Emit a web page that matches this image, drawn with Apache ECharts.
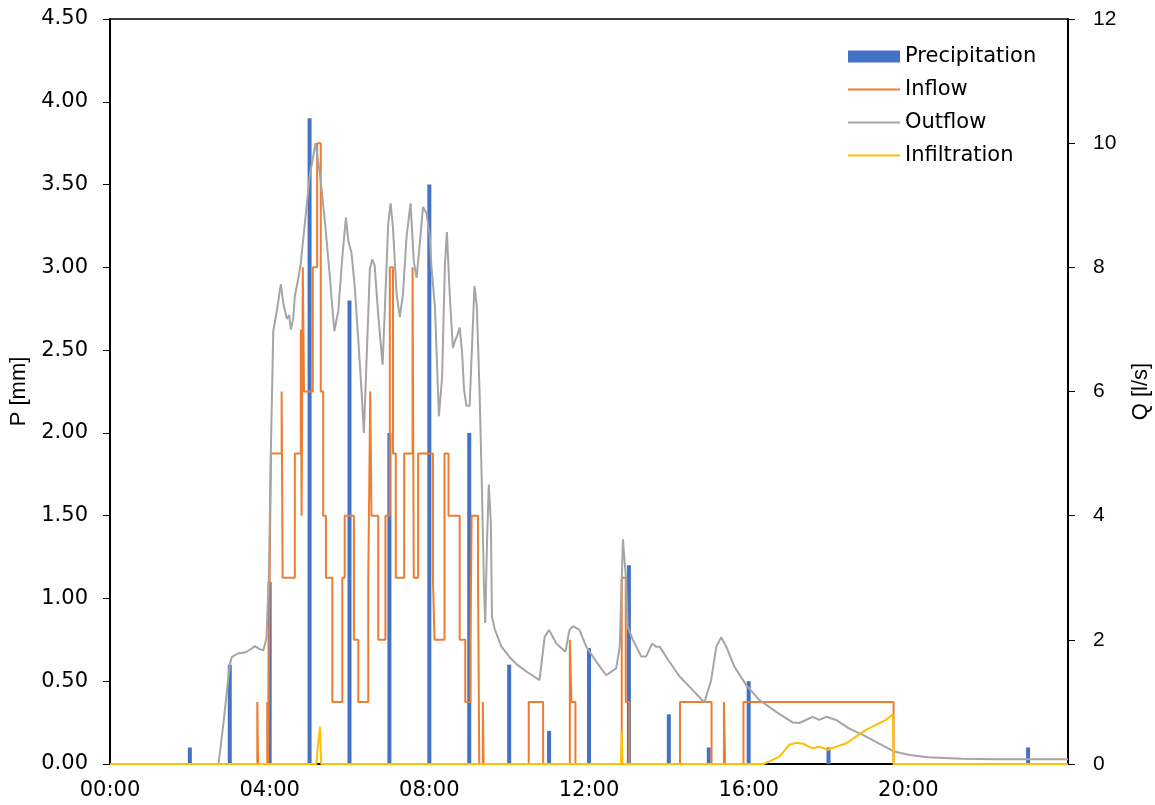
<!DOCTYPE html>
<html>
<head>
<meta charset="utf-8">
<script src="https://cdn.jsdelivr.net/npm/echarts@6/dist/echarts.min.js"></script>
<style>
  html, body { margin: 0; padding: 0; background: #fff; }
  #chart { width: 1155px; height: 805px; }
</style>
</head>
<body>
<div id="chart"></div>
<script>
// precipitation, hourly totals [mm]
const rainHours = [2, 3, 4, 5, 6, 7, 8, 9, 10, 11, 12, 13, 14, 15, 16, 18, 23]
const rainValues = [0.1, 0.6, 1.1, 3.9, 2.8, 2.0, 3.5, 2.0, 0.6, 0.2, 0.7, 1.2, 0.3, 0.1, 0.5, 0.1, 0.1]

// inflow [l/s], change points: [hour, new value]
const inflow = [
  [0, 0], [3.69, 1], [3.71, 0], [3.94, 1], [3.96, 0], [4.0, 3], [4.03, 5],
  [4.3, 6], [4.325, 3], [4.63, 5], [4.78, 7], [4.8, 4], [4.83, 8], [4.86, 6],
  [5.08, 8], [5.19, 10], [5.28, 6], [5.34, 4], [5.41, 3], [5.57, 1], [5.82, 3],
  [5.88, 4], [6.11, 2], [6.22, 1], [6.47, 3], [6.52, 6], [6.55, 4], [6.72, 2],
  [6.9, 4], [7.01, 8], [7.09, 5], [7.16, 3], [7.37, 5], [7.58, 8], [7.61, 3],
  [7.72, 5], [8.09, 3], [8.13, 2], [8.38, 5], [8.48, 4], [8.76, 2], [8.9, 1],
  [9.03, 2], [9.06, 4], [9.22, 3], [9.25, 0], [9.34, 1], [9.36, 0],
  [10.49, 1], [10.85, 0], [11.52, 2], [11.56, 1], [11.66, 0],
  [12.82, 3], [12.92, 1], [13.01, 0], [14.28, 1], [15.07, 0],
  [15.38, 1], [15.41, 0], [15.87, 1], [19.63, 0], [24, 0],
]

// outflow [l/s]
const outflow = [
  [0, 0], [2.72, 0], [2.85, 0.7], [3.0, 1.6], [3.05, 1.72], [3.2, 1.78], [3.4, 1.8],
  [3.55, 1.86], [3.63, 1.9], [3.75, 1.85], [3.84, 1.83], [3.92, 2.03], [3.98, 3.03],
  [4.03, 5.03], [4.09, 6.97], [4.18, 7.3], [4.28, 7.73], [4.34, 7.43], [4.43, 7.17],
  [4.49, 7.23], [4.53, 7.0], [4.59, 7.17], [4.63, 7.53], [4.72, 7.83], [4.78, 8.07],
  [4.88, 8.7], [5.01, 9.5], [5.15, 10.0], [5.26, 9.5], [5.39, 8.7], [5.51, 7.83],
  [5.62, 6.97], [5.72, 7.3], [5.82, 8.17], [5.91, 8.8], [5.97, 8.43], [6.05, 8.23],
  [6.13, 7.7], [6.22, 6.83], [6.3, 6.03], [6.36, 5.33], [6.42, 6.37], [6.51, 7.97],
  [6.57, 8.13], [6.63, 8.03], [6.72, 7.23], [6.83, 6.43], [6.9, 7.57], [6.97, 8.7],
  [7.03, 9.03], [7.09, 8.63], [7.18, 7.57], [7.26, 7.2], [7.34, 7.57], [7.43, 8.5],
  [7.53, 9.03], [7.61, 8.1], [7.68, 7.83], [7.76, 8.37], [7.84, 8.97], [7.93, 8.87],
  [8.01, 8.5], [8.05, 8.03], [8.14, 7.37], [8.24, 5.6], [8.32, 6.23], [8.39, 8.03],
  [8.44, 8.57], [8.51, 7.57], [8.59, 6.7], [8.65, 6.83], [8.7, 6.9], [8.76, 7.03],
  [8.82, 6.63], [8.87, 6.03], [8.93, 5.77], [9.01, 5.77], [9.08, 6.9], [9.13, 7.7],
  [9.19, 7.37], [9.26, 5.97], [9.32, 4.37], [9.37, 2.83], [9.4, 2.27], [9.45, 3.7],
  [9.49, 4.5], [9.54, 3.9], [9.57, 2.37], [9.64, 2.17], [9.8, 1.9], [10.01, 1.72],
  [10.2, 1.6], [10.43, 1.49], [10.76, 1.35], [10.89, 2.05], [11.0, 2.16], [11.18, 1.94],
  [11.41, 1.81], [11.51, 2.16], [11.6, 2.22], [11.76, 2.16], [11.93, 1.89], [12.18, 1.65],
  [12.43, 1.43], [12.68, 1.54], [12.77, 1.89], [12.82, 2.96], [12.85, 3.62], [12.89, 3.6],
  [12.93, 2.96], [12.97, 2.21], [13.1, 2.0], [13.31, 1.73], [13.43, 1.73], [13.58, 1.94],
  [13.68, 1.89], [13.77, 1.89], [13.98, 1.68], [14.27, 1.41], [14.6, 1.19], [14.89, 0.99],
  [15.06, 1.35], [15.19, 1.89], [15.31, 2.04], [15.44, 1.89], [15.64, 1.57], [15.94, 1.27],
  [16.27, 1.03], [16.69, 0.84], [17.1, 0.67], [17.27, 0.66], [17.6, 0.76], [17.77, 0.71],
  [17.94, 0.76], [18.19, 0.71], [18.52, 0.57], [18.86, 0.47], [19.27, 0.33], [19.65, 0.2],
  [20.03, 0.145], [20.48, 0.11], [21.36, 0.085], [22.2, 0.075], [24, 0.075],
]

// infiltration [l/s]
const infiltration = [
  [0, 0], [5.17, 0], [5.21, 0.3], [5.26, 0.6], [5.29, 0], [12.8, 0], [12.82, 0.52],
  [12.84, 0], [16.37, 0], [16.55, 0.05], [16.77, 0.12], [17.02, 0.31], [17.19, 0.34],
  [17.35, 0.33], [17.6, 0.25], [17.77, 0.28], [17.98, 0.23], [18.19, 0.28], [18.44, 0.33],
  [18.69, 0.44], [18.94, 0.55], [19.19, 0.63], [19.44, 0.71], [19.61, 0.8], [19.63, 0], [24, 0],
]

const tickFont = "DejaVu Sans, Verdana, sans-serif"
const titleFont = "Liberation Sans, Arial, sans-serif"
const lineIcon = "path://M0,0H52V2H0Z"

const chart = echarts.init(document.getElementById("chart"), null, { renderer: "canvas" })

const option = {
  animation: false,
  backgroundColor: "#fff",
  grid: {
    left: 110, right: 87, top: 19, bottom: 41,
    outerBoundsMode: "none", containLabel: false,
    show: true, borderColor: "#000", borderWidth: 1.5, backgroundColor: "transparent",
  },
  legend: {
    orient: "vertical",
    left: 843,
    top: 41,
    itemWidth: 52,
    itemHeight: 12,
    itemGap: 12,
    symbolKeepAspect: true,
    textStyle: { fontFamily: tickFont, fontSize: 21, color: "#000" },
    data: [
      { name: "Precipitation", icon: "rect" },
      { name: "Inflow", icon: lineIcon },
      { name: "Outflow", icon: lineIcon },
      { name: "Infiltration", icon: lineIcon },
    ],
  },
  xAxis: {
    type: "value",
    min: 0,
    max: 24,
    interval: 4,
    axisLine: { show: true, lineStyle: { color: "#000", width: 2 } },
    axisTick: { show: false },
    splitLine: { show: false },
    axisLabel: {
      margin: 16,
      fontFamily: tickFont,
      fontSize: 21,
      color: "#000",
      formatter: v => (v >= 24 ? "" : String(v).padStart(2, "0") + ":00"),
    },
  },
  yAxis: [
    {
      type: "value",
      min: 0,
      max: 4.5,
      interval: 0.5,
      name: "P [mm]",
      nameLocation: "middle",
      nameRotate: 90,
      nameGap: 79,
      nameTextStyle: { fontFamily: titleFont, fontSize: 22, color: "#000" },
      axisLine: { show: true, lineStyle: { color: "#000", width: 2 } },
      axisTick: { show: true, length: 7, lineStyle: { color: "#000", width: 1 } },
      splitLine: { show: false },
      axisLabel: {
        margin: 22,
        fontFamily: tickFont,
        fontSize: 21,
        color: "#000",
        formatter: v => v.toFixed(2),
      },
    },
    {
      type: "value",
      min: 0,
      max: 12,
      interval: 2,
      position: "right",
      name: "Q [l/s]",
      nameLocation: "middle",
      nameRotate: 90,
      nameGap: 62,
      nameTextStyle: { fontFamily: titleFont, fontSize: 22, color: "#000" },
      axisLine: { show: true, lineStyle: { color: "#000", width: 2 } },
      axisTick: { show: true, length: 7, lineStyle: { color: "#000", width: 1 } },
      splitLine: { show: false },
      axisLabel: { margin: 25, fontFamily: titleFont, fontSize: 21, color: "#000" },
    },
  ],
  series: [
    {
      name: "Precipitation",
      type: "bar",
      yAxisIndex: 0,
      barWidth: 4,
      z: 3,
      itemStyle: { color: "#4472C4" },
      data: rainHours.map((h, i) => [h, rainValues[i]]),
    },
    {
      name: "Inflow",
      type: "line",
      yAxisIndex: 1,
      step: "end",
      symbol: "none",
      lineStyle: { color: "#ED7D31", width: 2 },
      itemStyle: { color: "#ED7D31" },
      data: inflow,
    },
    {
      name: "Outflow",
      type: "line",
      yAxisIndex: 1,
      symbol: "none",
      lineStyle: { color: "#A5A5A5", width: 2 },
      itemStyle: { color: "#A5A5A5" },
      data: outflow,
    },
    {
      name: "Infiltration",
      type: "line",
      yAxisIndex: 1,
      symbol: "none",
      lineStyle: { color: "#FFC000", width: 2 },
      itemStyle: { color: "#FFC000" },
      data: infiltration,
    },
  ],
}

chart.setOption(option)
</script>
</body>
</html>
